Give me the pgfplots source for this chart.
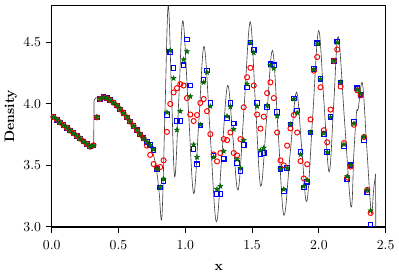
\documentclass[border=0pt]{standalone}
\usepackage{pgfplots}
\pgfplotsset{compat=1.18}
\pgfdeclareplotmark{fstar}{%
  \pgfpathmoveto{\pgfpointpolar{90}{\pgfplotmarksize}}%
  \pgfpathlineto{\pgfpointpolar{126}{0.42\pgfplotmarksize}}%
  \pgfpathlineto{\pgfpointpolar{162}{\pgfplotmarksize}}%
  \pgfpathlineto{\pgfpointpolar{198}{0.42\pgfplotmarksize}}%
  \pgfpathlineto{\pgfpointpolar{234}{\pgfplotmarksize}}%
  \pgfpathlineto{\pgfpointpolar{270}{0.42\pgfplotmarksize}}%
  \pgfpathlineto{\pgfpointpolar{306}{\pgfplotmarksize}}%
  \pgfpathlineto{\pgfpointpolar{342}{0.42\pgfplotmarksize}}%
  \pgfpathlineto{\pgfpointpolar{18}{\pgfplotmarksize}}%
  \pgfpathlineto{\pgfpointpolar{54}{0.42\pgfplotmarksize}}%
  \pgfpathclose
  \pgfusepathqfillstroke}
\definecolor{mgreen}{RGB}{0,128,0}
\pgfplotstableread{
x y
0.0125 3.893
0.0375 3.871
0.0625 3.849
0.0875 3.827
0.1125 3.805
0.1375 3.783
0.1625 3.761
0.1875 3.739
0.2125 3.717
0.2375 3.695
0.2625 3.673
0.2875 3.652
0.3125 3.662
0.3375 3.890
0.3625 4.040
0.3875 4.053
0.4125 4.045
0.4375 4.030
0.4625 4.010
0.4875 3.985
0.5125 3.955
0.5375 3.925
0.5625 3.890
0.5875 3.855
0.6125 3.820
0.6375 3.785
0.6625 3.750
0.6875 3.720
}\common
\pgfplotstableread{
x y
0.7125 3.690
0.7375 3.665
0.7625 3.625
0.7875 3.468
0.8125 3.320
0.8375 3.372
0.8625 3.909
0.8875 4.421
0.9125 4.293
0.9375 3.860
0.9625 3.860
0.9875 4.314
1.0125 4.522
1.0375 4.149
1.0625 3.633
1.0875 3.508
1.1125 3.825
1.1375 4.194
1.1625 4.270
1.1875 4.007
1.2125 3.580
1.2375 3.268
1.2625 3.268
1.2875 3.553
1.3125 3.880
1.3375 4.007
1.3625 3.840
1.3875 3.520
1.4125 3.452
1.4375 3.665
1.4625 4.133
1.4875 4.500
1.5125 4.440
1.5375 4.007
1.5625 3.593
1.5875 3.599
1.6125 3.972
1.6375 4.322
1.6625 4.314
1.6875 3.935
1.7125 3.468
1.7375 3.286
1.7625 3.478
1.7875 3.833
1.8125 4.042
1.8375 3.946
1.8625 3.607
1.8875 3.320
1.9125 3.366
1.9375 3.767
1.9625 4.282
1.9875 4.493
2.0125 4.202
2.0375 3.753
2.0625 3.607
2.0875 3.893
2.1125 4.346
2.1375 4.506
2.1625 4.175
2.1875 3.652
2.2125 3.385
2.2375 3.500
2.2625 3.855
2.2875 4.127
2.3125 4.074
2.3375 3.705
2.3625 3.278
2.3875 3.019
}\blueS
\pgfplotstableread{
x y
0.7125 3.660
0.7375 3.585
0.7625 3.510
0.7875 3.480
0.8125 3.486
0.8375 3.540
0.8625 3.772
0.8875 3.999
0.9125 4.093
0.9375 4.127
0.9625 4.160
0.9875 4.149
1.0125 4.047
1.0375 3.913
1.0625 3.860
1.0875 3.909
1.1125 4.007
1.1375 4.039
1.1625 3.940
1.1875 3.753
1.2125 3.588
1.2375 3.532
1.2625 3.599
1.2875 3.713
1.3125 3.705
1.3375 3.767
1.3625 3.600
1.3875 3.580
1.4125 3.713
1.4375 3.972
1.4625 4.216
1.4875 4.293
1.5125 4.149
1.5375 3.913
1.5625 3.798
1.5875 3.895
1.6125 4.087
1.6375 4.175
1.6625 4.047
1.6875 3.767
1.7125 3.540
1.7375 3.500
1.7625 3.660
1.7875 3.800
1.8125 3.909
1.8375 3.767
1.8625 3.534
1.8875 3.393
1.9125 3.508
1.9375 3.873
1.9625 4.270
1.9875 4.381
2.0125 4.135
2.0375 3.785
2.0625 3.687
2.0875 3.953
2.1125 4.350
2.1375 4.442
2.1625 4.141
2.1875 3.681
2.2125 3.400
2.2375 3.490
2.2625 3.830
2.2875 4.110
2.3125 4.070
2.3375 3.730
2.3625 3.300
2.3875 3.112
}\redS
\pgfplotstableread{
x y
0.7125 3.690
0.7375 3.665
0.7625 3.630
0.7875 3.470
0.8125 3.320
0.8375 3.390
0.8625 3.930
0.8875 4.435
0.9125 4.208
0.9375 3.788
0.9625 3.940
0.9875 4.360
1.0125 4.426
1.0375 4.060
1.0625 3.668
1.0875 3.566
1.1125 3.830
1.1375 4.175
1.1625 4.256
1.1875 3.980
1.2125 3.566
1.2375 3.305
1.2625 3.330
1.2875 3.615
1.3125 3.900
1.3375 3.975
1.3625 3.793
1.3875 3.548
1.4125 3.478
1.4375 3.705
1.4625 4.162
1.4875 4.496
1.5125 4.416
1.5375 3.980
1.5625 3.620
1.5875 3.641
1.6125 3.986
1.6375 4.314
1.6625 4.288
1.6875 3.900
1.7125 3.468
1.7375 3.305
1.7625 3.478
1.7875 3.833
1.8125 4.040
1.8375 3.927
1.8625 3.588
1.8875 3.330
1.9125 3.380
1.9375 3.767
1.9625 4.280
1.9875 4.490
2.0125 4.200
2.0375 3.760
2.0625 3.607
2.0875 3.890
2.1125 4.350
2.1375 4.500
2.1625 4.175
2.1875 3.670
2.2125 3.410
2.2375 3.500
2.2625 3.839
2.2875 4.115
2.3125 4.080
2.3375 3.732
2.3625 3.300
2.3875 3.131
}\greenS
\begin{document}
\begin{tikzpicture}
\begin{axis}[
  scale only axis, width=243pt, height=161pt,
  xmin=0, xmax=2.5, ymin=3.0, ymax=4.8,
  xtick={0,0.5,1,1.5,2,2.5}, ytick={3.0,3.5,4.0,4.5},
  tick align=outside, tick pos=left,
  xticklabel style={yshift=-2pt, /pgf/number format/.cd, fixed, fixed zerofill, precision=1},
  yticklabel style={/pgf/number format/.cd, fixed, fixed zerofill, precision=1},
  xlabel={\textbf{x}}, ylabel={\textbf{Density}},
  xlabel style={yshift=-4pt},
  ylabel style={yshift=-2pt},
  axis line style={line width=1.1pt},
  major tick style={line width=0.7pt, black},
]
\addplot[black!75, line width=0.45pt] coordinates {
(0,3.902) (0.1,3.818) (0.2,3.733) (0.3,3.648) (0.314,3.648) (0.317,4.03)
(0.33,4.047) (0.36,4.055) (0.39,4.053) (0.42,4.042) (0.45,4.022) (0.5,3.975)
(0.55,3.915) (0.6,3.845) (0.65,3.772) (0.70,3.705) (0.73,3.665)};
\addplot[black!75, line width=0.45pt, smooth, tension=0.6] coordinates {
(0.73,3.665) (0.76,3.59) (0.785,3.46) (0.805,3.27) (0.825,3.08)
(0.848,3.94) (0.872,4.80) (0.8965,4.103) (0.921,3.406)
(0.9515,4.04) (0.982,4.675) (1.0225,3.97) (1.063,3.27)
(1.102,3.868) (1.141,4.466) (1.1865,3.753) (1.232,3.04)
(1.2745,3.595) (1.317,4.15) (1.3565,3.725) (1.396,3.30)
(1.441,3.984) (1.486,4.667) (1.5255,3.999) (1.565,3.33)
(1.609,3.882) (1.653,4.434) (1.6955,3.764) (1.738,3.094)
(1.785,3.595) (1.832,4.095) (1.871,3.65) (1.910,3.206)
(1.954,3.90) (1.998,4.595) (2.0375,4.02) (2.077,3.446)
(2.111,3.995) (2.145,4.545) (2.193,3.85) (2.241,3.16)
(2.262,3.60) (2.282,3.93) (2.295,3.96) (2.326,4.167)
(2.359,3.64) (2.392,3.118) (2.41,3.30) (2.425,3.43)};
\addplot[black!75, line width=0.45pt] coordinates {(2.425,3.43) (2.426,2.9)};
\addplot[only marks, mark=square, mark size=1.65pt, blue, mark options={line width=0.8pt}] table {\common};
\addplot[only marks, mark=square, mark size=1.65pt, blue, mark options={line width=0.8pt}] table {\blueS};
\addplot[only marks, mark=o, mark size=1.85pt, red, mark options={line width=0.7pt}] table {\common};
\addplot[only marks, mark=o, mark size=1.85pt, red, mark options={line width=0.7pt}] table {\redS};
\addplot[only marks, mark=fstar, mark size=1.9pt, mgreen, mark options={fill=mgreen, draw=mgreen!70!black, line width=0.3pt}] table {\common};
\addplot[only marks, mark=fstar, mark size=1.9pt, mgreen, mark options={fill=mgreen, draw=mgreen!70!black, line width=0.3pt}] table {\greenS};
\end{axis}
\path (current axis.north east) ++(0,4pt) coordinate (tmp);
\end{tikzpicture}
\end{document}
